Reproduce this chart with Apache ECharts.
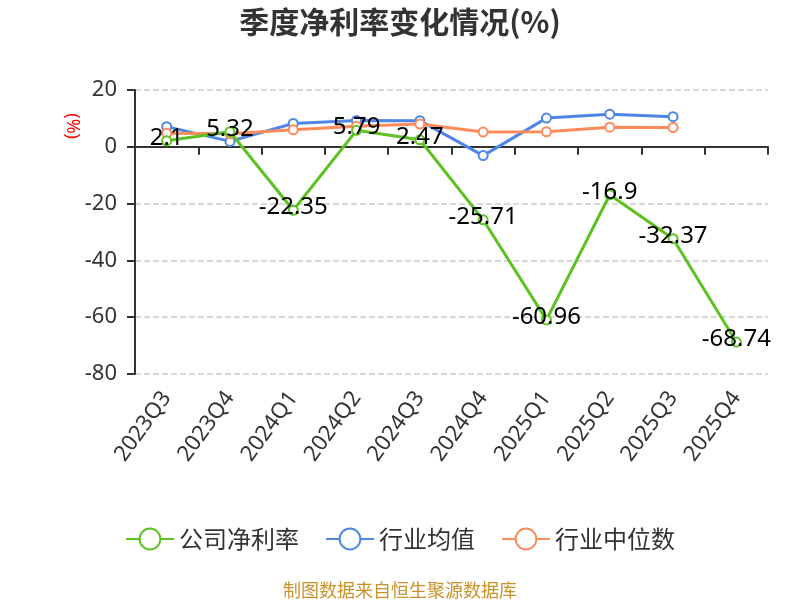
<!DOCTYPE html>
<html>
<head>
<meta charset="utf-8">
<script src="https://cdn.jsdelivr.net/npm/echarts@6/dist/echarts.min.js"></script>
<style>
  html, body { margin: 0; padding: 0; background: #fff; }
  #chart { width: 800px; height: 600px; }
</style>
</head>
<body>
<div id="chart"></div>
<script>
// 季度
const quarters = ['2023Q3', '2023Q4', '2024Q1', '2024Q2', '2024Q3', '2024Q4', '2025Q1', '2025Q2', '2025Q3', '2025Q4'];
// 公司净利率
const companyRate = [2.1, 5.32, -22.35, 5.79, 2.47, -25.71, -60.96, -16.9, -32.37, -68.74];
// 行业均值
const industryAvg = [7.1, 1.9, 8.2, 9.3, 9.2, -3.1, 10.1, 11.5, 10.6, null];
// 行业中位数
const industryMedian = [4.8, 4.6, 6.0, 7.2, 8.0, 5.2, 5.3, 6.9, 6.8, null];
const yTicks = { min: -80, max: 20, interval: 20 };

const FONT = "'Noto Sans', 'Noto Sans CJK SC', sans-serif";
const CJK = "'Noto Sans CJK SC', sans-serif";
const myChart = echarts.init(document.getElementById('chart'));

const lineSeries = (name, data, color, extra) => Object.assign({
  name,
  type: 'line',
  data,
  symbol: 'emptyCircle',
  symbolSize: 9,
  lineStyle: { width: 3, color },
  itemStyle: { color, borderWidth: 2 },
}, extra || {});

myChart.setOption({
  animation: false,
  backgroundColor: '#fff',
  textStyle: { fontFamily: FONT },
  title: [
    {
      text: '季度净利率变化情况(%)',
      left: 'center',
      top: 2,
      textStyle: { fontSize: 30, fontWeight: 'bold', color: '#333', fontFamily: CJK },
    },
    {
      text: '制图数据来自恒生聚源数据库',
      left: 'center',
      top: 576,
      textStyle: { fontSize: 18, fontWeight: 'normal', color: '#c9922b', fontFamily: CJK },
    },
  ],
  graphic: [{
    type: 'text',
    x: 81,
    y: 139,
    rotation: -Math.PI / 2,
    originX: 0,
    originY: 0,
    style: { text: '(%)', fill: 'red', font: "18px 'Noto Sans', sans-serif", align: 'right', verticalAlign: 'top' },
  }],
  legend: {
    bottom: 44,
    left: 'center',
    itemWidth: 48,
    itemHeight: 26,
    itemGap: 26,
    textStyle: { fontSize: 24, color: '#333', fontFamily: CJK },
    data: ['公司净利率', '行业均值', '行业中位数'],
  },
  grid: { left: 135, right: 32, top: 90, bottom: 226 },
  xAxis: [
    {
      type: 'category',
      data: quarters,
      axisLine: { onZero: true, lineStyle: { color: '#333', width: 2 } },
      axisTick: { show: true, length: 8, lineStyle: { color: '#333', width: 2 } },
      axisLabel: { show: false },
    },
    {
      type: 'category',
      data: quarters,
      position: 'bottom',
      axisLine: { show: false, onZero: false },
      axisTick: { show: false },
      axisLabel: { rotate: 54, fontSize: 22, color: '#333', margin: 20 },
    },
  ],
  yAxis: {
    type: 'value',
    min: yTicks.min,
    max: yTicks.max,
    interval: yTicks.interval,
    axisLine: { show: true, lineStyle: { color: '#333', width: 2 } },
    axisTick: { show: true, length: 8, lineStyle: { color: '#333', width: 2 } },
    axisLabel: { fontSize: 22, color: '#333', margin: 18 },
    splitLine: { lineStyle: { type: 'dashed', color: '#ccc', width: 1.5 } },
  },
  series: [
    lineSeries('公司净利率', companyRate, '#5bc21f', {
      z: 3,
      label: { show: true, position: 'inside', fontSize: 24, color: '#000', offset: [0, -3] },
    }),
    lineSeries('行业均值', industryAvg, '#4e86e8', { z: 2 }),
    lineSeries('行业中位数', industryMedian, '#fd8b5a', { z: 2 }),
  ],
});
</script>
</body>
</html>
